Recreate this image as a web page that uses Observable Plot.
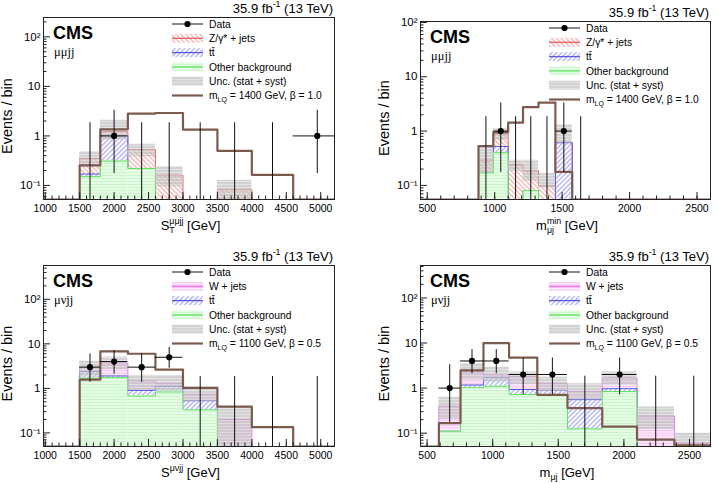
<!DOCTYPE html>
<html><head><meta charset="utf-8">
<script src="https://cdn.jsdelivr.net/npm/d3@7"></script>
<script src="https://cdn.jsdelivr.net/npm/@observablehq/plot@0.6"></script>
<style>
body{margin:0;background:#fff;}
#root{position:relative;width:717px;height:483px;overflow:hidden;background:#fff;}
.panel{position:absolute;}
.panel svg{position:absolute;left:0;top:0;}
</style></head><body>
<svg width="0" height="0" style="position:absolute">
<defs>
 <pattern id="pZ" width="3.4" height="3.4" patternUnits="userSpaceOnUse" patternTransform="rotate(-45)">
   <line x1="1.7" y1="-1" x2="1.7" y2="5" stroke="#ef7f7f" stroke-width="0.8"/>
 </pattern>
 <pattern id="pT" width="3.4" height="3.4" patternUnits="userSpaceOnUse" patternTransform="rotate(45)">
   <line x1="1.7" y1="-1" x2="1.7" y2="5" stroke="#7a7aee" stroke-width="0.8"/>
 </pattern>
 <pattern id="pO" width="4" height="3" patternUnits="userSpaceOnUse">
   <rect width="4" height="3" fill="#e4fbe4"/>
   <line x1="0" y1="1.5" x2="4" y2="1.5" stroke="#c8f5c8" stroke-width="0.8"/>
 </pattern>
 <pattern id="pW" width="4" height="2.6" patternUnits="userSpaceOnUse">
   <rect width="4" height="2.6" fill="#fce8fb"/>
   <line x1="0" y1="1.3" x2="4" y2="1.3" stroke="#f4bdf1" stroke-width="0.8"/>
 </pattern>
 <pattern id="pU" width="3" height="3" patternUnits="userSpaceOnUse">
   <rect width="3" height="3" fill="#bdbdbd"/>
   <line x1="0" y1="1.5" x2="3" y2="1.5" stroke="#dadada" stroke-width="0.8"/>
 </pattern>
</defs>
</svg>
<div id="root"></div>
<script>
const FONT = '"Liberation Sans", Arial, Helvetica, sans-serif';

// ---------- Top-left: mu mu j j, S_T ----------
const stEdges   = [1500, 1800, 2200, 2600, 3000, 3500, 4000, 4600, 5300];
const tlOther   = [0.15, 0.31, 0.22, 0, 0, 0, 0, 0];
const tlTtbar   = [0.02, 0.69, 0, 0, 0, 0, 0, 0];
const tlZjets   = [0.18, 0.22, 0.31, 0.16, 0, 0.082, 0, 0];
const tlUncLo   = [0.24, 0.82, 0.38, 0.094, 0, 0.04, 0, 0];
const tlUncHi   = [0.48, 2.07, 0.68, 0.24, 0, 0.127, 0, 0];
const tlSignal  = [0.255, 1.36, 2.83, 2.9, 1.34, 0.50, 0.163, 0];
const tlData    = [0, 1, 0, 0, 0, 0, 0, 1];
const tlErrLo   = [0, 0.173, 0, 0, 0, 0, 0, 0.173];
const tlErrHi   = [1.84, 3.30, 1.84, 1.84, 1.84, 1.84, 1.84, 3.30];

// ---------- Top-right: mu mu j j, m_muj^min ----------
const mminEdges = [880, 990, 1100, 1210, 1325, 1450, 1575, 1700];
const trOther   = [0.17, 0.40, 0, 0.08, 0, 0, 0];
const trTtbar   = [0, 0.12, 0, 0, 0, 0.61, 0];
const trZjets   = [0.12, 0.37, 0.24, 0.105, 0.098, 0.01, 0];
const trUncLo   = [0.17, 0.67, 0.18, 0.12, 0.088, 0.6, 0];
const trUncHi   = [0.51, 1.1, 0.29, 0.29, 0.166, 1.3, 0];
const trSignal  = [0.53, 0.95, 1.43, 2.75, 3.35, 0.177, 0];
const trData    = [0, 1, 0, 0, 0, 1, 0];
const trErrLo   = [0, 0.173, 0, 0, 0, 0.173, 0];
const trErrHi   = [1.84, 3.30, 1.84, 1.84, 1.84, 3.30, 1.84];

// ---------- Bottom-left: mu nu j j, S_T ----------
const blOther   = [1.7, 1.74, 0.67, 0.83, 0.33, 0, 0, 0];
const blTtbar   = [0.67, 0.16, 0.23, 0.28, 0.2, 0, 0, 0];
const blWjets   = [0.65, 1.8, 0.56, 0.16, 0.2, 0.2, 0, 0];
const blUncLo   = [1.8, 2.6, 0.9, 0.85, 0.5, 0.04, 0, 0];
const blUncHi   = [4.1, 5.06, 1.96, 1.95, 1.07, 0.38, 0, 0];
const blSignal  = [1.57, 6.8, 6.0, 2.63, 1.03, 0.39, 0.135, 0];
const blData    = [3, 4, 3, 5, 0, 0, 0, 0];
const blErrLo   = [1.37, 2.09, 1.37, 2.84, 0, 0, 0, 0];
const blErrHi   = [5.92, 7.16, 5.92, 8.38, 1.84, 1.84, 1.84, 1.84];

// ---------- Bottom-right: mu nu j j, m_muj ----------
const mujEdges  = [590, 755, 930, 1125, 1340, 1570, 1835, 2100, 2385, 2680];
const brOther   = [0.11, 1.02, 1.1, 0.72, 0.69, 0.125, 0.84, 0, 0];
const brTtbar   = [0, 0.15, 0.6, 0.21, 0.2, 0.43, 0.13, 0, 0];
const brWjets   = [0.29, 1.1, 0.25, 0.89, 0.36, 0.29, 0.7, 0.24, 0.06];
const brUncLo   = [0.2, 1.5, 1.35, 1.2, 0.85, 0.55, 1.15, 0.12, 0.03];
const brUncHi   = [0.63, 3.5, 2.9, 2.3, 1.75, 1.25, 2.3, 0.38, 0.1];
const brSignal  = [0.167, 2.47, 10.0, 4.72, 0.71, 0.36, 0.14, 0.072, 0.054];
const brData    = [1, 4, 4, 2, 2, 0, 2, 0, 0];
const brErrLo   = [0.173, 2.09, 2.09, 0.708, 0.708, 0, 0.708, 0, 0];
const brErrHi   = [3.30, 7.16, 7.16, 4.64, 4.64, 1.84, 4.64, 1.84, 1.84];

// tick values
const stMajor   = [1000, 1500, 2000, 2500, 3000, 3500, 4000, 4500, 5000];
const mMajor    = [500, 1000, 1500, 2000, 2500];
const yMajor    = [0.1, 1, 10, 100];
const yLabels   = {0.1: "10\u207B\u00B9", 1: "1", 10: "10", 100: "10\u00B2"};

// legend labels
const legMuMu = ["Data", "Z/\u03B3* + jets", "tt\u0304", "Other background", "Unc. (stat + syst)", "mLQ1400"];
const legMuNu = ["Data", "W + jets", "tt\u0304", "Other background", "Unc. (stat + syst)", "mLQ1100"];

const COL = {
  Z: {fill: "url(#pZ)", stroke: "#e96060"},
  T: {fill: "url(#pT)", stroke: "#5a5ae0"},
  O: {fill: "url(#pO)", stroke: "#5fe05f"},
  W: {fill: "url(#pW)", stroke: "#e872e8"},
  sig: "#7b5b4d"
};

function minorTicks(a, b, step) { const t = []; for (let v = a; v <= b + 1e-9; v += step) t.push(v); return t; }
function logMinor(lo, hi) {
  const t = [];
  for (let e = -2; e <= 3; e++) for (let k = 2; k <= 9; k++) { const v = k * Math.pow(10, e); if (v >= lo && v <= hi) t.push(v); }
  return t;
}
function stepPts(edges, vals, ymin, x0, x1) {
  const pts = [{x: x0 ?? edges[0], y: ymin}];
  vals.forEach((v, i) => pts.push({x: edges[i], y: Math.max(v, ymin)}));
  pts.push({x: edges[edges.length - 1], y: ymin});
  if (x1 != null) pts.push({x: x1, y: ymin});
  return pts;
}

function richText(sel, parts, size) {
  let shift = 0, prev = null;
  for (const p of parts) {
    const ts = sel.append("tspan").text(p.t);
    const target = p.sub ? 0.3 * size : p.sup ? -0.45 * size : 0;
    ts.attr("dy", target - shift); shift = target;
    if (p.sub || p.sup) ts.attr("font-size", size * 0.68);
    if (p.stack && prev) ts.attr("dx", -prev.node().getComputedTextLength());
    prev = ts;
  }
}

function makePanel(cfg) {
  const {left, top, W, H, m, xDomain, yDomain, edges, comps, uncLo, uncHi, signal, data, errLo, errHi, xMajor, xMinorStep} = cfg;
  const ymin = yDomain[0];
  const n = edges.length - 1;
  const bins = d3.range(n).map(i => ({x1: edges[i], x2: edges[i + 1], xc: (edges[i] + edges[i + 1]) / 2}));
  let cum = new Array(n).fill(0);
  const layers = comps.map(c => { const lo = cum.slice(); cum = cum.map((v, i) => v + c.vals[i]); return {c, lo, hi: cum.slice()}; });
  const marks = [];
  for (const L of layers.slice().reverse()) {
    const rects = bins.map((b, i) => ({...b, y1: Math.max(L.lo[i], ymin), y2: L.hi[i], v: L.c.vals[i]})).filter(d => d.v > 0 && d.y2 > ymin);
    marks.push(Plot.rectY(rects, {x1: "x1", x2: "x2", y1: "y1", y2: "y2", fill: L.c.fill, clip: true}));
    marks.push(Plot.line(stepPts(edges, L.hi, ymin), {x: "x", y: "y", curve: "step-after", stroke: L.c.stroke, strokeWidth: 1, clip: true}));
  }
  const unc = bins.map((b, i) => ({...b, y1: Math.max(uncLo[i], ymin), y2: uncHi[i]})).filter(d => d.y2 > ymin);
  marks.push(Plot.rectY(unc, {x1: "x1", x2: "x2", y1: "y1", y2: "y2", fill: "url(#pU)", fillOpacity: 0.68, clip: true}));
  marks.push(Plot.frame({stroke: "#222", strokeWidth: 1}));
  marks.push(Plot.line(stepPts(edges, signal, ymin, xDomain[0], xDomain[1]), {x: "x", y: "y", curve: "step-after", stroke: COL.sig, strokeWidth: 2.2, clip: true}));
  const dd = bins.map((b, i) => ({...b, n: data[i], lo: Math.max(errLo[i], ymin), hi: errHi[i]}));
  marks.push(Plot.ruleX(dd, {x: "xc", y1: "lo", y2: "hi", stroke: "#111", strokeWidth: 1, clip: true}));
  marks.push(Plot.ruleY(dd.filter(d => d.n > 0), {y: "n", x1: "x1", x2: "x2", stroke: "#111", strokeWidth: 1, clip: true}));
  marks.push(Plot.dot(dd.filter(d => d.n > 0), {x: "xc", y: "n", r: 3.1, fill: "#000"}));
  // axes (ROOT style, inward ticks)
  const xMinor = minorTicks(Math.ceil(xDomain[0] / xMinorStep) * xMinorStep, xDomain[1], xMinorStep);
  marks.push(Plot.axisX({ticks: xMajor, tickSize: -7, fill: "none", label: null, stroke: "#222"}));
  marks.push(Plot.axisX({ticks: xMinor, tickSize: -3.5, fill: "none", label: null, stroke: "#222"}));
  marks.push(Plot.axisX({ticks: xMajor, tickSize: 0, tickPadding: 5, fontSize: 10.5, label: null, tickFormat: d => String(d)}));
  marks.push(Plot.axisY({ticks: yMajor, tickSize: -7, fill: "none", label: null, stroke: "#222"}));
  marks.push(Plot.axisY({ticks: logMinor(yDomain[0], yDomain[1]), tickSize: -3.5, fill: "none", label: null, stroke: "#222"}));
  marks.push(Plot.axisY({ticks: yMajor, tickSize: 0, tickPadding: 3, fontSize: 11.5, label: null, tickFormat: d => yLabels[d]}));

  const chart = Plot.plot({
    width: W, height: H,
    marginLeft: m.l, marginRight: m.r, marginTop: m.t, marginBottom: m.b,
    x: {domain: xDomain},
    y: {type: "log", domain: yDomain},
    style: {background: "transparent", fontFamily: FONT, color: "#000", overflow: "visible"},
    marks
  });
  const div = d3.select("#root").append("div").attr("class", "panel")
    .style("left", left + "px").style("top", top + "px").style("width", W + "px").style("height", H + "px");
  div.node().appendChild(chart);

  // overlay texts
  const fl = m.l, fr = W - m.r, ft = m.t, fb = H - m.b;
  const svg = div.append("svg").attr("width", W).attr("height", H).attr("font-family", FONT).style("overflow", "visible");
  const lumi = svg.append("text").attr("x", fr - 1).attr("y", ft - 4.5).attr("text-anchor", "end").attr("font-size", 13);
  richText(lumi, [{t: "35.9 fb"}, {t: "-1", sup: true}, {t: " (13 TeV)"}], 13);
  svg.append("text").attr("x", fl + 10).attr("y", ft + 22).attr("font-size", 18).attr("font-weight", "bold").text("CMS");
  svg.append("text").attr("x", fl + 11).attr("y", ft + 39).attr("font-size", 12.5)
    .attr("font-family", '"Liberation Serif", "Times New Roman", serif').text(cfg.channel);
  const xt = svg.append("text").attr("x", (fl + fr) / 2 + 2).attr("y", fb + 30.5).attr("text-anchor", "middle").attr("font-size", 13);
  richText(xt, cfg.xTitle, 13);
  svg.append("text").attr("transform", `translate(${fl - 36},${(ft + fb) / 2 + 8}) rotate(-90)`)
    .attr("text-anchor", "middle").attr("y", 5).attr("font-size", 14.5).text("Events / bin");

  // legend
  const sx0 = fl + 129, sx1 = fl + 160, tx = fl + 166;
  cfg.legend.forEach((lab, i) => {
    const yc = ft + 7 + 14.3 * i;
    const g = svg.append("g");
    const type = cfg.legendTypes[i];
    if (type === "data") {
      g.append("line").attr("x1", sx0).attr("x2", sx1).attr("y1", yc).attr("y2", yc).attr("stroke", "#111");
      g.append("circle").attr("cx", (sx0 + sx1) / 2).attr("cy", yc).attr("r", 3.1).attr("fill", "#000");
    } else if (type === "sig") {
      g.append("line").attr("x1", sx0).attr("x2", sx1).attr("y1", yc).attr("y2", yc).attr("stroke", COL.sig).attr("stroke-width", 2.2);
    } else if (type === "U") {
      g.append("rect").attr("x", sx0).attr("y", yc - 4.5).attr("width", sx1 - sx0).attr("height", 9).attr("fill", "url(#pU)").attr("fill-opacity", 0.68);
    } else {
      g.append("rect").attr("x", sx0).attr("y", yc - 4.5).attr("width", sx1 - sx0).attr("height", 9).attr("fill", COL[type].fill);
      g.append("line").attr("x1", sx0).attr("x2", sx1).attr("y1", yc).attr("y2", yc).attr("stroke", COL[type].stroke).attr("stroke-width", 1.3);
    }
    const t = svg.append("text").attr("x", tx).attr("y", yc + 3.7).attr("font-size", 10.3);
    if (lab.startsWith("mLQ")) {
      const mass = lab.slice(3);
      const beta = mass === "1400" ? "1.0" : "0.5";
      richText(t, [{t: "m"}, {t: "LQ", sub: true}, {t: ` = ${mass} GeV, \u03B2 = ${beta}`}], 10.3);
    } else t.text(lab);
  });
}

const mTL = {l: 43, r: 24, t: 17, b: 43};
const mTR = {l: 63, r: 5, t: 21, b: 43};
const mBL = {l: 43, r: 24, t: 23, b: 37};
const mBR = {l: 63, r: 5, t: 23, b: 37};
const typesZ = ["data", "Z", "T", "O", "U", "sig"];
const typesW = ["data", "W", "T", "O", "U", "sig"];

makePanel({left: 0, top: 0, W: 358, H: 242, m: mTL, xDomain: [975, 5200], yDomain: [0.052, 246],
  edges: stEdges, comps: [{vals: tlOther, ...COL.O}, {vals: tlTtbar, ...COL.T}, {vals: tlZjets, ...COL.Z}],
  uncLo: tlUncLo, uncHi: tlUncHi, signal: tlSignal, data: tlData, errLo: tlErrLo, errHi: tlErrHi,
  xMajor: stMajor, xMinorStep: 100, channel: "\u03BC\u03BCjj",
  xTitle: [{t: "S"}, {t: "T", sub: true}, {t: "\u03BC\u03BCjj", sup: true, stack: true}, {t: " [GeV]"}],
  legend: legMuMu, legendTypes: typesZ});

makePanel({left: 357, top: 0, W: 358, H: 242, m: mTR, xDomain: [450, 2600], yDomain: [0.055, 104],
  edges: mminEdges, comps: [{vals: trOther, ...COL.O}, {vals: trTtbar, ...COL.T}, {vals: trZjets, ...COL.Z}],
  uncLo: trUncLo, uncHi: trUncHi, signal: trSignal, data: trData, errLo: trErrLo, errHi: trErrHi,
  xMajor: mMajor, xMinorStep: 100, channel: "\u03BC\u03BCjj",
  xTitle: [{t: "m"}, {t: "\u03BCj", sub: true}, {t: "min", sup: true, stack: true}, {t: " [GeV]"}],
  legend: legMuMu, legendTypes: typesZ});

makePanel({left: 0, top: 242, W: 358, H: 241, m: mBL, xDomain: [975, 5200], yDomain: [0.0495, 575],
  edges: stEdges, comps: [{vals: blOther, ...COL.O}, {vals: blTtbar, ...COL.T}, {vals: blWjets, ...COL.W}],
  uncLo: blUncLo, uncHi: blUncHi, signal: blSignal, data: blData, errLo: blErrLo, errHi: blErrHi,
  xMajor: stMajor, xMinorStep: 100, channel: "\u03BC\u03BDjj",
  xTitle: [{t: "S"}, {t: "\u03BC\u03BDjj", sup: true}, {t: " [GeV]"}],
  legend: legMuNu, legendTypes: typesW});

makePanel({left: 357, top: 242, W: 358, H: 241, m: mBR, xDomain: [450, 2660], yDomain: [0.0506, 525],
  edges: mujEdges, comps: [{vals: brOther, ...COL.O}, {vals: brTtbar, ...COL.T}, {vals: brWjets, ...COL.W}],
  uncLo: brUncLo, uncHi: brUncHi, signal: brSignal, data: brData, errLo: brErrLo, errHi: brErrHi,
  xMajor: mMajor, xMinorStep: 100, channel: "\u03BC\u03BDjj",
  xTitle: [{t: "m"}, {t: "\u03BCj", sub: true}, {t: " [GeV]"}],
  legend: legMuNu, legendTypes: typesW});
</script>
</body></html>
